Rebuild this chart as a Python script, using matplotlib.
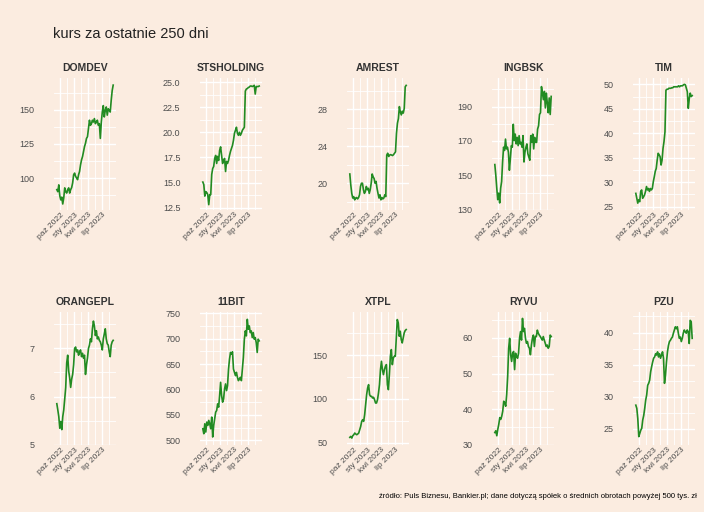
import numpy as np
import pandas as pd
import matplotlib
matplotlib.use("Agg")
import matplotlib.pyplot as plt
from matplotlib.ticker import MultipleLocator, FormatStrFormatter

plt.rcParams['font.family'] = ['Liberation Sans', 'DejaVu Sans']

# kursy spolek (co ok. 4 sesje)
names = ["DOMDEV", "STSHOLDING", "AMREST", "INGBSK", "TIM",
         "ORANGEPL", "11BIT", "XTPL", "RYVU", "PZU"]

domdev = [91.5, 90, 95, 87, 84, 86, 81, 85.5, 92.8, 90, 89, 91.5, 92.8, 89, 91.5, 93,
          96.4, 102.4, 103.6, 101.2, 100, 98.8, 102.4, 104.8, 109.7, 113.3, 115.7, 119.3,
          123, 125.4, 129, 130.2, 136.2, 142.3, 138.6, 139.8, 142.3, 141, 143.5, 139.8,
          141, 142.3, 138.6, 139.8, 129, 141, 148.3, 153, 144.7, 149.5, 152, 146, 150.7,
          149.5, 148.3, 156.8, 164, 168]
stsholding = [15.05, 14.8, 13.65, 14.1, 14.0, 13.8, 12.8, 13.8, 13.8, 15.8, 16.4, 16.6,
              17.4, 17.7, 16.9, 17.6, 17.2, 18.2, 18.55, 17.7, 16.9, 17.2, 17.4, 16.1,
              17.1, 16.9, 17.2, 17.7, 18.1, 18.4, 18.7, 19.2, 19.9, 20.2, 20.5, 19.9, 19.7,
              20.0, 19.7, 19.9, 20.2, 20.35, 20.5, 24.1, 24.3, 24.35, 24.45, 24.5, 24.6,
              24.6, 24.55, 24.6, 24.67, 23.8, 24.55, 24.55, 24.55, 24.6]
amrest = [21.0, 19.8, 18.9, 18.4, 18.55, 18.2, 18.4, 18.45, 18.3, 18.45, 18.75, 19.65,
          20.0, 20.0, 19.3, 18.9, 19.1, 19.65, 19.3, 19.45, 18.9, 19.3, 20.0, 21.0, 20.7,
          20.5, 20.0, 20.2, 19.45, 18.9, 18.4, 18.75, 18.2, 18.45, 18.3, 18.4, 18.75,
          18.55, 23.05, 23.25, 22.9, 23.05, 23.1, 23.05, 23.0, 23.1, 23.25, 23.4, 25.4,
          26.5, 27.0, 28.3, 27.7, 27.4, 27.8, 27.6, 28.1, 30.45, 30.6]
ingbsk = [156.3, 150.2, 142.6, 135.9, 139.7, 134, 142.6, 146.4, 157.8, 166.4, 164.5,
          171.1, 165.4, 166.4, 163.5, 153.0, 159.7, 167.3, 166.4, 179.7, 170.2, 174.0,
          168.3, 172.1, 167.3, 173.1, 168.3, 169.2, 166.4, 173.1, 157.8, 163.5, 166.4,
          168.3, 162.6, 160.7, 158.8, 173.1, 169.2, 174.0, 165.4, 172.1, 169.2, 169.2,
          176.9, 178.8, 185.4, 186.4, 201.6, 197.8, 194.0, 198.8, 189.2, 197.8, 192.1,
          186.4, 195.0, 185.4, 195.9]
tim = [27.7, 26.7, 25.7, 26.4, 26.0, 28.1, 28.4, 26.7, 27.0, 27.4, 28.1, 29.1, 28.4, 28.7,
       28.1, 28.7, 28.4, 28.7, 30.1, 31.1, 32.2, 32.8, 34.5, 35.9, 35.6, 35.2, 33.5, 34.5,
       36.9, 38.3, 40.3, 48.8, 49.0, 49.0, 49.2, 49.2, 49.2, 49.3, 49.3, 49.5, 49.5, 49.5,
       49.5, 49.5, 49.7, 49.5, 49.7, 49.7, 49.7, 49.9, 50.0, 49.9, 49.2, 48.5, 45.1, 47.1,
       48.2, 47.5, 47.7]
orangepl = [5.85, 5.72, 5.58, 5.34, 5.48, 5.31, 5.58, 5.72, 5.95, 6.19, 6.70, 6.86, 6.53,
            6.39, 6.19, 6.36, 6.46, 6.66, 7.00, 7.03, 6.93, 6.97, 6.86, 6.93, 6.97, 6.83,
            6.90, 6.80, 6.86, 6.46, 6.66, 6.80, 7.00, 7.07, 7.20, 7.14, 7.41, 7.57, 7.47,
            7.27, 7.37, 7.20, 7.24, 7.17, 7.14, 7.07, 6.97, 7.20, 7.30, 7.41, 7.20, 7.10,
            7.07, 6.93, 6.83, 7.07, 7.14, 7.17]
bit11 = [522.8, 513, 532.6, 516.3, 535.9, 529.4, 539.2, 532.6, 522.8, 545.7, 506.5,
         529.4, 542.4, 555.5, 558.7, 571.8, 565.3, 588.1, 614.2, 588.1, 575.1, 581.6,
         601.2, 611.0, 597.9, 607.7, 640.3, 659.9, 673, 669.7, 674.3, 640.3, 633.8, 627.3,
         633.8, 624, 617.5, 620.7, 624, 617.5, 640.3, 663.2, 699.1, 715.4, 705.6, 738.2,
         718.7, 725.2, 712.1, 715.4, 702.3, 712.1, 699.1, 702.3, 692.5, 673, 699.1, 695.8]
xtpl = [56.3, 57.4, 55.5, 58.2, 59.3, 61.2, 60.1, 59.3, 60.1, 61.2, 65, 68.8, 74.5, 76.4,
        74.5, 82.1, 93.5, 104.9, 112.5, 116.3, 104.9, 103, 103, 101.1, 101.9, 99.2, 95.4,
        95.4, 99.2, 106.8, 116.3, 133.4, 142.9, 133.4, 127.7, 133.4, 137.2, 139.1, 116.3,
        110.6, 127.7, 148.6, 156.2, 139.1, 146.7, 148.6, 148.6, 169.5, 190.4, 186.6,
        171.4, 177.1, 167.6, 163.8, 169.5, 175.2, 177.9, 179]
ryvu = [33.4, 33.9, 32.5, 34.3, 35.7, 37.6, 37.1, 38.0, 39.4, 42.2, 41.8, 40.8, 44.1, 49.2,
        57.1, 59.9, 55.3, 53.4, 55.7, 56.2, 51.1, 55.7, 54.8, 54.3, 55.7, 59.9, 61.8, 59.4,
        65.5, 61.8, 62.7, 59.9, 58.5, 59.0, 57.6, 57.1, 55.3, 58.0, 59.9, 60.8, 57.6, 60.4,
        60.4, 62.2, 61.3, 60.8, 60.4, 59.9, 59.4, 60.4, 59.4, 58.5, 57.6, 58.0, 57.1, 57.6,
        60.8, 60.4]
pzu = [28.7, 28.2, 26.6, 23.8, 24.3, 24.8, 25.1, 26.4, 27.1, 28.2, 29.5, 30.3, 31.8, 32.1,
       32.6, 33.9, 34.7, 35.4, 36.0, 36.2, 36.7, 36.5, 37.0, 36.2, 36.7, 36.0, 36.5, 37.0,
       36.0, 32.1, 33.4, 35.4, 37.0, 38.0, 38.6, 38.8, 39.1, 39.3, 39.9, 40.4, 40.9, 40.6,
       40.9, 39.9, 39.1, 39.3, 38.6, 39.1, 39.9, 40.4, 40.1, 39.9, 40.4, 40.1, 38.3, 41.9,
       41.7, 39.1]

series = [domdev, stsholding, amrest, ingbsk, tim, orangepl, bit11, xtpl, ryvu, pzu]

# osie y - podzialka i zakres jak na oryginale
ysteps = [25, 2.5, 4, 20, 5, 1, 50, 50, 10, 5]
yoffs = [0, 0, 0, 10, 0, 0, 0, 0, 0, 0]
yfmt = ["%d", "%.1f", "%d", "%d", "%d", "%d", "%d", "%d", "%d", "%d"]
ylims = [(76.6, 173.2), (12.27, 25.4), (17.1, 31.4), (129.9, 206.6), (24.3, 51.3),
         (4.99, 7.76), (490.8, 752.6), (47.6, 199.0), (29.9, 67.3), (22.5, 43.2)]

start = "2022-09-08"
end = "2023-09-12"
xticks = pd.to_datetime(["2022-10-01", "2023-01-01", "2023-04-01", "2023-07-01"])
xlabels = ["paź 2022", "sty 2023", "kwi 2023", "lip 2023"]
xminor = pd.to_datetime(["2022-11-15", "2023-02-14", "2023-05-16", "2023-08-16"])

bg = "#FBECE0"
W, H = 704, 512
fig = plt.figure(figsize=(W / 100, H / 100), dpi=100, facecolor=bg)

lefts = [54, 200, 347, 492, 633]
tops = [78, 312]
pw = 62
phs = [132, 133]

for i, (name, vals) in enumerate(zip(names, series)):
    r, c = divmod(i, 5)
    ph = phs[r]
    ax = fig.add_axes([lefts[c] / W, 1 - (tops[r] + ph) / H, pw / W, ph / H])
    ax.set_facecolor(bg)
    dates = pd.date_range(start, end, periods=len(vals))
    ax.plot(dates, vals, color="#228B22", lw=1.2)
    ax.margins(x=0.05)
    ax.set_ylim(ylims[i])

    ax.yaxis.set_major_locator(MultipleLocator(ysteps[i], offset=yoffs[i]))
    ax.yaxis.set_minor_locator(MultipleLocator(ysteps[i] / 2, offset=yoffs[i]))
    ax.yaxis.set_major_formatter(FormatStrFormatter(yfmt[i]))
    ax.set_xticks(xticks)
    ax.set_xticklabels(xlabels)
    ax.set_xticks(xminor, minor=True)

    ax.grid(True, which="major", color="white", lw=1.0)
    ax.grid(True, which="minor", color="white", lw=0.6)
    ax.set_axisbelow(True)
    for s in ax.spines.values():
        s.set_visible(False)
    ax.tick_params(which="both", length=0)
    ax.tick_params(axis="y", labelsize=6.5, labelcolor="#4D4D4D", pad=14)
    ax.tick_params(axis="x", labelsize=6, labelcolor="#4D4D4D", pad=1)
    for lab in ax.get_xticklabels():
        lab.set_rotation(45)
        lab.set_ha("right")
        lab.set_rotation_mode("anchor")
    ax.set_title(name, fontsize=7.5, fontweight="bold", color="#333333", pad=5)

fig.text(53 / W, 1 - 34 / H, "kurs za ostatnie 250 dni", fontsize=10.5, color="#222222",
         ha="left", va="center")
fig.text(697 / W, 1 - 497 / H,
         "źródło: Puls Biznesu, Bankier.pl; dane dotyczą spółek o średnich obrotach powyżej 500 tys. zł",
         fontsize=5.5, color="black", ha="right", va="center")

fig.savefig("out.png", dpi=100, facecolor=bg)
